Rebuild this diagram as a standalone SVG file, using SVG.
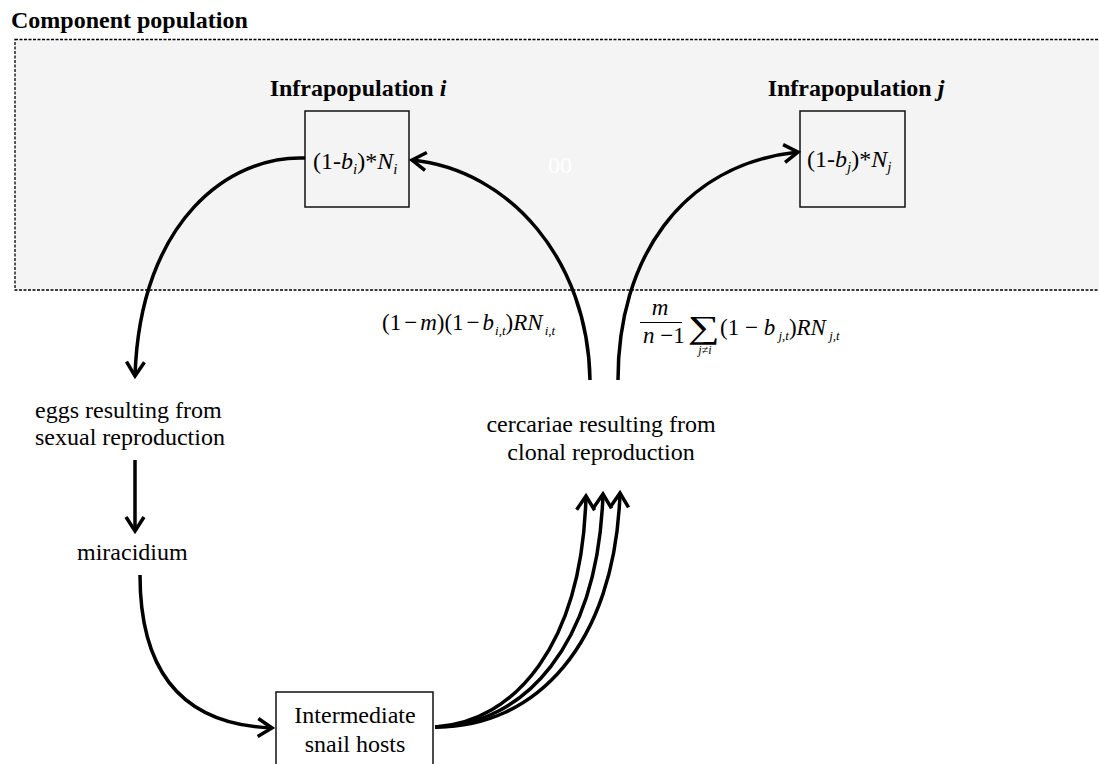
<svg xmlns="http://www.w3.org/2000/svg" width="1099" height="764" viewBox="0 0 1099 764">
<defs>
<marker id="ah" markerUnits="userSpaceOnUse" markerWidth="30" markerHeight="30" viewBox="-20 -15 30 30" refX="0" refY="0" orient="auto" overflow="visible">
<path d="M-14,-9 L0,0 L-14,9" fill="none" stroke="#000" stroke-width="3.5" stroke-linejoin="miter" stroke-linecap="butt"/>
</marker>
</defs>
<style>
text{font-family:"Liberation Serif","Times New Roman",serif;fill:#000}
.t{font-size:24px}
.b{font-size:24px;font-weight:bold}
.i{font-style:italic}
.f{font-size:23px}
.s{font-size:13px;font-style:italic}
.box{fill:#f4f4f4;stroke:#111;stroke-width:1.5}
.wbox{fill:#fff;stroke:#111;stroke-width:1.5}
.c{fill:none;stroke:#000;stroke-width:3.5;marker-end:url(#ah)}
</style>
<rect width="1099" height="764" fill="#fff"/>
<g id="component-population">
<rect x="15" y="39.5" width="1100" height="250.5" fill="#f4f4f4" stroke="#000" stroke-width="1.3" stroke-dasharray="3,1.5"/>
<text class="b" x="11" y="28">Component population</text>
<text class="t" x="548" y="173" style="fill:#fff">00</text>
</g>
<g id="infra-i">
<text class="b" x="358" y="96" text-anchor="middle">Infrapopulation <tspan class="i">i</tspan></text>
<rect class="box" x="305" y="111" width="104" height="96"/>
<text class="t" x="313" y="169">(1-<tspan class="i">b</tspan><tspan class="i" font-size="15" dy="5">i</tspan><tspan dy="-5">)*</tspan><tspan class="i">N</tspan><tspan class="i" font-size="15" dy="5">i</tspan></text>
</g>
<g id="infra-j">
<text class="b" x="856" y="96" text-anchor="middle">Infrapopulation <tspan class="i">j</tspan></text>
<rect class="box" x="800" y="111" width="105" height="96"/>
<text class="t" x="807" y="167">(1-<tspan class="i">b</tspan><tspan class="i" font-size="15" dy="5">j</tspan><tspan dy="-5">)*</tspan><tspan class="i">N</tspan><tspan class="i" font-size="15" dy="5">j</tspan></text>
</g>
<g id="eggs">
<text class="t" x="35" y="418">eggs resulting from</text>
<text class="t" x="35" y="445">sexual reproduction</text>
</g>
<g id="miracidium">
<text class="t" x="77" y="560">miracidium</text>
</g>
<g id="snail">
<rect class="wbox" x="276" y="692" width="157" height="80"/>
<text class="t" x="355" y="723" text-anchor="middle">Intermediate</text>
<text class="t" x="355" y="752" text-anchor="middle">snail hosts</text>
</g>
<g id="cercariae">
<text class="t" x="601" y="432" text-anchor="middle">cercariae resulting from</text>
<text class="t" x="601" y="460" text-anchor="middle">clonal reproduction</text>
</g>
<g id="formula-left">
<text class="f" x="382" y="330">(1<tspan dx="3">−</tspan><tspan class="i" dx="3">m</tspan>)(1<tspan dx="3">−</tspan><tspan class="i" dx="3">b</tspan><tspan class="s" dy="5" dx="1">i,t</tspan><tspan dy="-5">)</tspan><tspan class="i">RN</tspan><tspan class="s" dy="5" dx="2">i,t</tspan></text>
</g>
<g id="formula-right">
<text class="f i" x="660" y="315" text-anchor="middle">m</text>
<line x1="640" y1="322.5" x2="682" y2="322.5" stroke="#000" stroke-width="1.2"/>
<text class="f" x="643" y="343"><tspan class="i">n</tspan> −1</text>
<text x="688" y="338" font-size="32" textLength="32" lengthAdjust="spacingAndGlyphs">∑</text>
<text x="705" y="354" font-size="12" text-anchor="middle"><tspan class="i">j</tspan>≠<tspan class="i">i</tspan></text>
<text class="f" x="720" y="335">(1 − <tspan class="i">b</tspan><tspan class="s" dy="5"> j,t</tspan><tspan dy="-5">)</tspan><tspan class="i">RN</tspan><tspan class="s" dy="5"> j,t</tspan></text>
</g>
<g id="connectors">
<path class="c" d="M305,158 C230,155 140,220 135,376"/>
<path class="c" d="M135,460 L135,531"/>
<path class="c" d="M140,575 C140,680 190,725 272,728"/>
<path class="c" d="M435,727 C515,722 582,645 586,496"/>
<path class="c" d="M435,727 C525,725 598,645 603,494"/>
<path class="c" d="M435,727 C535,728 615,645 620,493"/>
<path class="c" d="M590,380 C588,260 510,170 412,160"/>
<path class="c" d="M618,380 C618,260 680,165 798,152"/>
</g>
</svg>
